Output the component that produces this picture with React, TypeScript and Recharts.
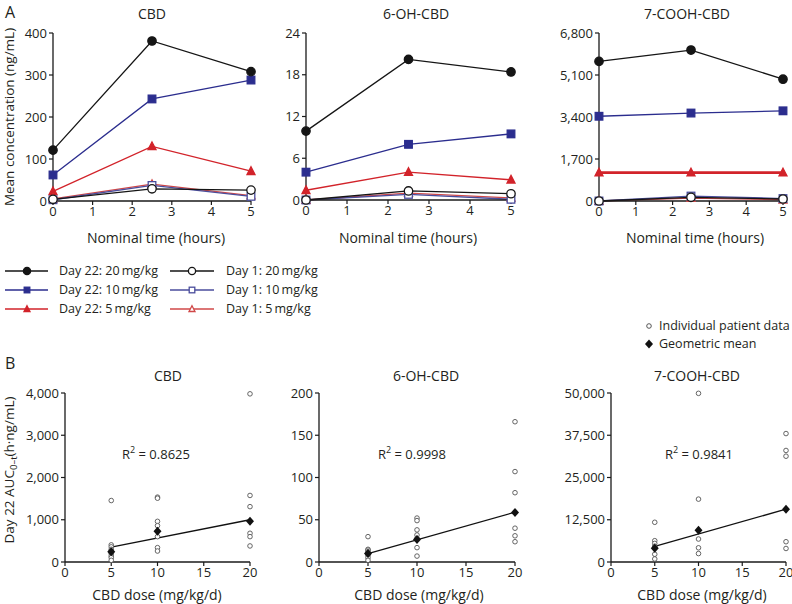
import React from 'react';
import { LineChart, Line, XAxis, YAxis, ScatterChart, Scatter } from 'recharts';

const FONT = '"Open Sans", "DejaVu Sans", sans-serif';
const TXT = '#231f20';
const AX = '#1a1a1a';

// ---------- Panel A data (mean concentration vs nominal time) ----------
const times = [0, 2.5, 5];
const timeTicks = [0, 1, 2, 3, 4, 5];

const cbdD22_20 = [121, 381, 308];
const cbdD22_10 = [62, 243, 288];
const cbdD22_5 = [23, 130, 71];
const cbdD1_20 = [4, 29, 26];
const cbdD1_10 = [3, 37, 11];
const cbdD1_5 = [5, 40, 13];
const cbdTicks = [0, 100, 200, 300, 400];

const ohD22_20 = [9.9, 20.2, 18.4];
const ohD22_10 = [4.0, 8.0, 9.5];
const ohD22_5 = [1.4, 4.0, 2.9];
const ohD1_20 = [0, 1.3, 0.9];
const ohD1_10 = [0, 0.8, 0.1];
const ohD1_5 = [0, 1.0, 0.3];
const ohTicks = [0, 6, 12, 18, 24];

const coohD22_20 = [5650, 6110, 4930];
const coohD22_10 = [3430, 3560, 3650];
const coohD22_5 = [1150, 1150, 1150];
const coohD1_20 = [0, 150, 80];
const coohD1_10 = [0, 200, 100];
const coohD1_5 = [0, 120, 50];
const coohTicks = [0, 1700, 3400, 5100, 6800];

const seriesKeys = ['d22_5', 'd22_10', 'd22_20', 'd1_5', 'd1_10', 'd1_20'];
const seriesLabels: Record<string, string> = {
  d22_20: 'Day 22: 20\u2009mg/kg',
  d22_10: 'Day 22: 10\u2009mg/kg',
  d22_5: 'Day 22: 5\u2009mg/kg',
  d1_20: 'Day 1: 20\u2009mg/kg',
  d1_10: 'Day 1: 10\u2009mg/kg',
  d1_5: 'Day 1: 5\u2009mg/kg',
};
const seriesStyle: Record<string, { color: string; kind: string; filled: boolean }> = {
  d22_20: { color: '#151515', kind: 'circle', filled: true },
  d22_10: { color: '#2b2d8e', kind: 'square', filled: true },
  d22_5: { color: '#d2232a', kind: 'triangle', filled: true },
  d1_20: { color: '#151515', kind: 'circle', filled: false },
  d1_10: { color: '#4a4d9c', kind: 'square', filled: false },
  d1_5: { color: '#d04848', kind: 'triangle', filled: false },
};

const buildA = (a: number[], b: number[], c: number[], d: number[], e: number[], f: number[]) =>
  times.map((t, i) => ({ t, d22_20: a[i], d22_10: b[i], d22_5: c[i], d1_20: d[i], d1_10: e[i], d1_5: f[i] }));

const cbdRows = buildA(cbdD22_20, cbdD22_10, cbdD22_5, cbdD1_20, cbdD1_10, cbdD1_5);
const ohRows = buildA(ohD22_20, ohD22_10, ohD22_5, ohD1_20, ohD1_10, ohD1_5);
const coohRows = buildA(coohD22_20, coohD22_10, coohD22_5, coohD1_20, coohD1_10, coohD1_5);

// ---------- Panel B data (Day 22 AUC vs dose) ----------
const doses = [5, 10, 20];
const doseTicks = [0, 5, 10, 15, 20];
const fitDoses = [5, 20];

const cbdInd5 = [1455, 405, 358, 300, 262, 199, 143, 103, 40];
const cbdInd10 = [1535, 1510, 962, 860, 600, 340, 260];
const cbdInd20 = [3980, 1575, 1310, 680, 600, 380];
const cbdGeoMean = [240, 725, 965];
const cbdFit = [350, 1000];
const cbdAucTicks = [0, 1000, 2000, 3000, 4000];

const ohInd5 = [30, 15, 14, 12, 10, 8, 5, 2];
const ohInd10 = [52, 49, 38, 32, 28, 17, 7];
const ohInd20 = [166, 107, 82, 40, 31, 24];
const ohGeoMean = [10, 26.5, 58.6];
const ohFit = [10, 59];
const ohAucTicks = [0, 50, 100, 150, 200];

const coohInd5 = [11750, 6300, 5500, 4700, 4400, 2300, 900];
const coohInd10 = [49900, 18600, 6800, 4200, 2500];
const coohInd20 = [38000, 33000, 31300, 6000, 4000];
const coohGeoMean = [4100, 9400, 15600];
const coohFit = [4600, 15640];
const coohAucTicks = [0, 12500, 25000, 37500, 50000];

const indPts = (a5: number[], a10: number[], a20: number[]) => [
  ...a5.map((y) => ({ x: doses[0], y })),
  ...a10.map((y) => ({ x: doses[1], y })),
  ...a20.map((y) => ({ x: doses[2], y })),
];
const gmPts = (g: number[]) => doses.map((x, i) => ({ x, y: g[i] }));
const fitPts = (f: number[]) => fitDoses.map((x, i) => ({ x, y: f[i] }));

const fmt = (v: number) => v.toLocaleString('en-US');

// ---------- markers ----------
function Marker({ kind, cx, cy, color, filled, s }: any) {
  const fill = filled ? color : '#ffffff';
  const sw = 1.3;
  if (cx == null || cy == null) return null;
  if (kind === 'circle') return <circle cx={cx} cy={cy} r={s} fill={fill} stroke={color} strokeWidth={sw} />;
  if (kind === 'square')
    return <rect x={cx - s} y={cy - s} width={2 * s} height={2 * s} fill={fill} stroke={color} strokeWidth={sw} />;
  const h = s * 1.1;
  return (
    <polygon
      points={`${cx},${cy - h} ${cx + s},${cy + h * 0.75} ${cx - s},${cy + h * 0.75}`}
      fill={fill}
      stroke={color}
      strokeWidth={sw}
    />
  );
}

const tickStyle = { fill: TXT, fontSize: 13, fontFamily: FONT };

type Box = { x0: number; x1: number; y0: number; y1: number };
const YW = 52;
const MT = 10;
const MR = 14;
const XH = 30;

function chartPos(b: Box) {
  return {
    style: { position: 'absolute' as const, left: b.x0 - YW, top: b.y0 - MT },
    width: b.x1 - b.x0 + YW + MR,
    height: b.y1 - b.y0 + MT + XH,
  };
}

function PanelA({ rows, ticks, box, thickRed }: { rows: any[]; ticks: number[]; box: Box; thickRed?: boolean }) {
  const p = chartPos(box);
  return (
    <div style={p.style}>
      <LineChart width={p.width} height={p.height} data={rows} margin={{ top: MT, right: MR, bottom: 0, left: 0 }}>
        <XAxis
          dataKey="t"
          type="number"
          domain={[0, 5]}
          ticks={timeTicks}
          interval={0}
          height={XH}
          tickSize={4}
          tickMargin={2}
          axisLine={{ stroke: AX, strokeWidth: 1.3 }}
          tickLine={{ stroke: AX, strokeWidth: 1.2 }}
          tick={tickStyle}
        />
        <YAxis
          type="number"
          domain={[ticks[0], ticks[ticks.length - 1]]}
          ticks={ticks}
          interval={0}
          width={YW}
          tickSize={4}
          tickMargin={2}
          tickFormatter={fmt}
          axisLine={{ stroke: AX, strokeWidth: 1.3 }}
          tickLine={{ stroke: AX, strokeWidth: 1.2 }}
          tick={tickStyle}
        />
        {seriesKeys.map((k) => {
          const st = seriesStyle[k];
          const s = st.kind === 'circle' ? 4.2 : st.kind === 'square' ? 3.8 : 4;
          return (
            <Line
              key={k}
              dataKey={k}
              type="linear"
              stroke={st.color}
              strokeWidth={thickRed && k === 'd22_5' ? 2.6 : 1.3}
              isAnimationActive={false}
              dot={(dp: any) => (
                <Marker key={`${k}-${dp.index}`} kind={st.kind} cx={dp.cx} cy={dp.cy} color={st.color} filled={st.filled} s={s} />
              )}
              activeDot={false}
            />
          );
        })}
      </LineChart>
    </div>
  );
}

function PanelB({ ind, gm, fit, ticks, box }: { ind: any[]; gm: any[]; fit: any[]; ticks: number[]; box: Box }) {
  const p = chartPos(box);
  return (
    <div style={p.style}>
      <ScatterChart width={p.width} height={p.height} margin={{ top: MT, right: MR, bottom: 0, left: 0 }}>
        <XAxis
          dataKey="x"
          type="number"
          domain={[0, 20]}
          ticks={doseTicks}
          interval={0}
          height={XH}
          tickSize={4}
          tickMargin={2}
          axisLine={{ stroke: AX, strokeWidth: 1.3 }}
          tickLine={{ stroke: AX, strokeWidth: 1.2 }}
          tick={tickStyle}
        />
        <YAxis
          dataKey="y"
          type="number"
          domain={[ticks[0], ticks[ticks.length - 1]]}
          ticks={ticks}
          interval={0}
          width={YW}
          tickSize={4}
          tickMargin={2}
          tickFormatter={fmt}
          axisLine={{ stroke: AX, strokeWidth: 1.3 }}
          tickLine={{ stroke: AX, strokeWidth: 1.2 }}
          tick={tickStyle}
        />
        <Scatter
          data={fit}
          line={{ stroke: '#111', strokeWidth: 1.3 }}
          lineType="joint"
          shape={() => <g />}
          isAnimationActive={false}
        />
        <Scatter
          data={ind}
          isAnimationActive={false}
          shape={(sp: any) => <circle cx={sp.cx} cy={sp.cy} r={2.3} fill="#fff" stroke="#555" strokeWidth={0.9} />}
        />
        <Scatter
          data={gm}
          isAnimationActive={false}
          shape={(sp: any) => (
            <polygon
              points={`${sp.cx},${sp.cy - 4.5} ${sp.cx + 4},${sp.cy} ${sp.cx},${sp.cy + 4.5} ${sp.cx - 4},${sp.cy}`}
              fill="#111"
            />
          )}
        />
      </ScatterChart>
    </div>
  );
}

const boxA1: Box = { x0: 53, x1: 251, y0: 33, y1: 201 };
const boxA2: Box = { x0: 306, x1: 511, y0: 33, y1: 200 };
const boxA3: Box = { x0: 599, x1: 783, y0: 33, y1: 201 };
const boxB1: Box = { x0: 65, x1: 250, y0: 393, y1: 562 };
const boxB2: Box = { x0: 319, x1: 515, y0: 393, y1: 562 };
const boxB3: Box = { x0: 611, x1: 786, y0: 393, y1: 562 };

const legendRowsA = [
  ['d22_20', 'd1_20'],
  ['d22_10', 'd1_10'],
  ['d22_5', 'd1_5'],
];

function Overlay() {
  const t = (x: number, y: number, s: string, size = 13.5, anchor = 'middle', key?: string) => (
    <text key={key} x={x} y={y} fontSize={size} textAnchor={anchor} dominantBaseline="central" fill={TXT} fontFamily={FONT}>
      {s}
    </text>
  );
  const rowY = [271, 290, 309];
  const cols = [
    { l0: 5, l1: 48, m: 27, tx: 59 },
    { l0: 170, l1: 214, m: 192, tx: 226 },
  ];
  return (
    <svg width={792} height={604} style={{ position: 'absolute', left: 0, top: 0, pointerEvents: 'none' }}>
      {t(5, 12, 'A', 16, 'start')}
      {t(5, 363, 'B', 16, 'start')}
      {t(152, 13, 'CBD', 14)}
      {t(416, 13, '6-OH-CBD', 14)}
      {t(687, 13, '7-COOH-CBD', 14)}
      {t(156, 237, 'Nominal time (hours)', 14)}
      {t(408, 237, 'Nominal time (hours)', 14)}
      {t(695, 237, 'Nominal time (hours)', 14)}
      <text x={9} y={117} fontSize={13.5} textAnchor="middle" dominantBaseline="central" fill={TXT} fontFamily={FONT} transform="rotate(-90 9 117)">
        Mean concentration (ng/mL)
      </text>
      {legendRowsA.map((row, ri) =>
        row.map((k, ci) => {
          const st = seriesStyle[k];
          const c = cols[ci];
          const y = rowY[ri];
          const s = st.kind === 'circle' ? 3.6 : st.kind === 'square' ? 2.8 : 3;
          return (
            <g key={k}>
              <line x1={c.l0} x2={c.l1} y1={y} y2={y} stroke={st.color} strokeWidth={1.3} />
              <Marker kind={st.kind} cx={c.m} cy={y} color={st.color} filled={st.filled} s={s} />
              {t(c.tx, y - 1, seriesLabels[k], 12.5, 'start')}
            </g>
          );
        })
      )}
      <circle cx={649} cy={326} r={2.3} fill="#fff" stroke="#444" strokeWidth={0.9} />
      {t(659, 325, 'Individual patient data', 12.5, 'start')}
      <polygon points="649,339.5 653,344 649,348.5 645,344" fill="#111" />
      {t(659, 343, 'Geometric mean', 12.5, 'start')}
      {t(168, 375, 'CBD', 14)}
      {t(426, 375, '6-OH-CBD', 14)}
      {t(697, 375, '7-COOH-CBD', 14)}
      {t(157, 594, 'CBD dose (mg/kg/d)', 14)}
      {t(419, 594, 'CBD dose (mg/kg/d)', 14)}
      {t(702, 594, 'CBD dose (mg/kg/d)', 14)}
      <text x={9} y={470} fontSize={13.5} textAnchor="middle" dominantBaseline="central" fill={TXT} fontFamily={FONT} transform="rotate(-90 9 470)">
        Day 22 AUC<tspan fontSize={9.5} dy={4}>0–t</tspan>
        <tspan dy={-4}>(h·ng/mL)</tspan>
      </text>
      {[
        { x: 122, v: '0.8625' },
        { x: 378, v: '0.9998' },
        { x: 665, v: '0.9841' },
      ].map((r) => (
        <text key={r.x} x={r.x} y={454} fontSize={13} dominantBaseline="central" fill={TXT} fontFamily={FONT}>
          R<tspan fontSize={9} dy={-5}>2</tspan>
          <tspan dy={5}>{` = ${r.v}`}</tspan>
        </text>
      ))}
    </svg>
  );
}

export default function App() {
  return (
    <div style={{ position: 'absolute', left: 0, top: 0, width: 792, height: 604, background: '#fff', overflow: 'hidden', fontFamily: FONT }}>
      <PanelA rows={cbdRows} ticks={cbdTicks} box={boxA1} />
      <PanelA rows={ohRows} ticks={ohTicks} box={boxA2} />
      <PanelA rows={coohRows} ticks={coohTicks} box={boxA3} thickRed />
      <PanelB ind={indPts(cbdInd5, cbdInd10, cbdInd20)} gm={gmPts(cbdGeoMean)} fit={fitPts(cbdFit)} ticks={cbdAucTicks} box={boxB1} />
      <PanelB ind={indPts(ohInd5, ohInd10, ohInd20)} gm={gmPts(ohGeoMean)} fit={fitPts(ohFit)} ticks={ohAucTicks} box={boxB2} />
      <PanelB ind={indPts(coohInd5, coohInd10, coohInd20)} gm={gmPts(coohGeoMean)} fit={fitPts(coohFit)} ticks={coohAucTicks} box={boxB3} />
      <Overlay />
    </div>
  );
}
